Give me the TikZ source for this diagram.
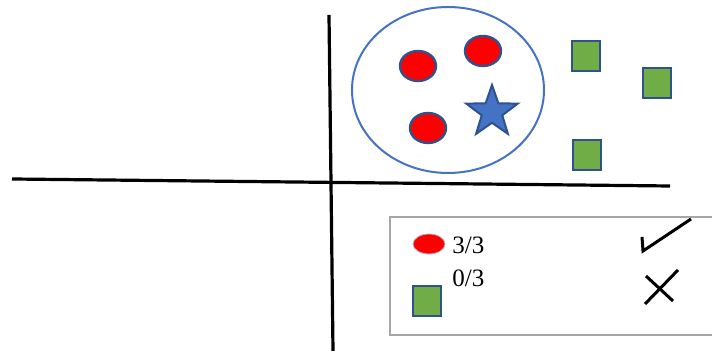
\documentclass[tikz,border=0pt]{standalone}
\usepackage{fontspec}
\setmainfont{Liberation Serif}
\usetikzlibrary{shapes.geometric, positioning}
\definecolor{cBlue}{RGB}{68,114,196}
\definecolor{cEdge}{RGB}{47,82,143}
\definecolor{cGreen}{RGB}{112,173,71}
\definecolor{cFrame}{RGB}{166,166,166}
\tikzset{
	axis/.style   ={line width=1.6pt, black},
	dot/.style    ={ellipse, draw=cEdge, line width=1.2pt, fill=red, minimum width=18pt, minimum height=15pt, inner sep=0pt},
	sq/.style     ={rectangle, draw=cEdge, line width=1.2pt, fill=cGreen, minimum width=14pt, minimum height=15pt, inner sep=0pt},
	query/.style  ={star, star points=5, star point ratio=2.5, draw=cEdge, line width=1pt, fill=cBlue, minimum size=27pt, inner sep=0pt},
	tickline/.style={line width=1.5pt, black},
}

\begin{document}
\begin{tikzpicture}[x=0.5pt, y=-0.5pt, every node/.style={font=\fontsize{12.5}{14}\selectfont}]
	\useasboundingbox (0,0) rectangle (712,351);
	% axes
	\draw[axis] (329,15) -- (333,351);
	\draw[axis] (12,179) -- (670,186);
	% neighbourhood of the query point
	\node[ellipse, draw=cBlue, line width=1pt, minimum width=96pt, minimum height=83pt] (hood) at (448,90) {};
	\node[dot] (r1) at (418,66) {};
	\node[dot] (r2) at (483,51) {};
	\node[dot] (r3) at (428,128) {};
	\node[query] (q) at (492,112) {};
	\node[sq] (g1) at (586,56) {};
	\node[sq] (g2) at (657,83) {};
	\node[sq] (g3) at (587,155) {};
	% legend
	\node[rectangle, draw=cFrame, line width=1pt, minimum width=164pt, minimum height=59pt] (legend) at (554,276) {};
	\node[ellipse, fill=red, draw=cEdge!40, line width=0.4pt, minimum width=16pt, minimum height=10pt, inner sep=0pt] (lr) at (429,244) {};
	\node[sq] (lg) at (427,301) {};
	\node[anchor=west, inner sep=0pt] (lrtxt) at (452,245) {3/3};
	\node[anchor=west, inner sep=0pt] (lgtxt) at (452,278) {0/3};
	\draw[tickline] (642,237) -- (643,251) -- (691,219);
	\draw[tickline] (646,276) -- (673,301);
	\draw[tickline] (678,270) -- (645,304);
\end{tikzpicture}
\end{document}
